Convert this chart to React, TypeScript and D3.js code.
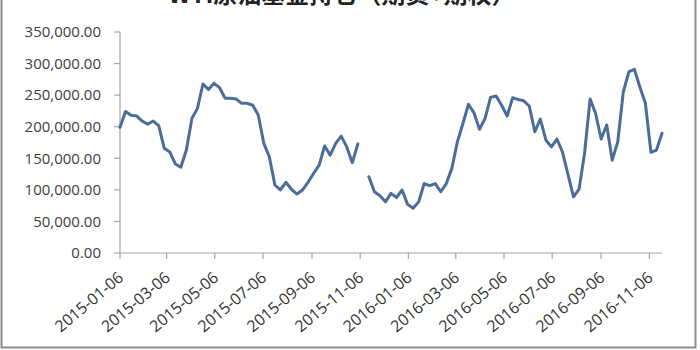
import React from "react";
import * as d3 from "d3";

const TITLE = "WTI原油基金持仓（期货+期权）";
const START_DATE = "2015-01-06"; // weekly observations (Tuesdays)
const END_DATE = "2016-11-22";
// null = missing week (gap in line)
const positions: (number | null)[] = [
  199000, 224000, 218000, 217000, 209000, 204000, 209000, 201600, 165800, 160000,
  141000, 135700, 163000, 213000, 229000, 267600, 259000, 268700, 261800, 245000,
  245000, 243900, 237000, 237000, 234000, 218500, 173700, 152500, 107700, 99800,
  112000, 100900, 93400, 99800, 112000, 126000, 139000, 169500, 155000, 173700,
  185000, 168000, 143000, 172600, null, 120800, 97000, 90800, 81000, 94500,
  87600, 99800, 77000, 70800, 81000, 110000, 106600, 110000, 97000, 110000,
  134000, 176000, 205000, 235500, 222000, 196000, 213000, 246500, 248600, 234000,
  217000, 246000, 243000, 241000, 232800, 192000, 212000, 179000, 168000, 180500,
  160000, 124600, 89000, 101000, 158000, 244000, 221000, 180500, 202700, 147000,
  176000, 255000, 287000, 291000, 263000, 237000, 159500, 163000, 189600,
];
const xTickLabels = [
  "2015-01-06", "2015-03-06", "2015-05-06", "2015-07-06", "2015-09-06", "2015-11-06",
  "2016-01-06", "2016-03-06", "2016-05-06", "2016-07-06", "2016-09-06", "2016-11-06",
];
const yTicks = [0, 50000, 100000, 150000, 200000, 250000, 300000, 350000];

const W = 700;
const H = 350;
const M = { left: 120, right: 662, top: 32, bottom: 253 };
const FONT = "'Open Sans', 'Liberation Sans', sans-serif";

export default function App() {
  const parse = d3.utcParse("%Y-%m-%d");
  const start = parse(START_DATE)!;
  const end = parse(END_DATE)!;
  const data = positions.map((v, i) => ({ date: d3.utcWeek.offset(start, i), v }));

  const x = d3.scaleUtc().domain([start, end]).range([M.left, M.right]);
  const y = d3.scaleLinear().domain([0, 350000]).range([M.bottom, M.top]);

  const line = d3
    .line<{ date: Date; v: number | null }>()
    .defined((d) => d.v != null)
    .x((d) => x(d.date))
    .y((d) => y(d.v as number));

  const fmt = d3.format(",.2f");
  const axisColor = "#a6a6a6";

  return (
    <svg
      width={W}
      height={H}
      style={{ position: "absolute", left: 0, top: 0, background: "#fff" }}
      fontFamily={FONT}
    >
      <rect x={0} y={0} width={W} height={H} fill="#fff" />
      <rect x={1.5} y={-10} width={694} height={357.5} fill="none" stroke="#8c8c8c" strokeWidth={2} />
      <text
        x={342}
        y={3}
        textAnchor="middle"
        fontSize={24}
        fontWeight="bold"
        fill="#222"
        fontFamily="'Noto Sans CJK SC', sans-serif"
      >
        {TITLE}
      </text>

      {/* y axis */}
      <line x1={M.left} x2={M.left} y1={M.top} y2={M.bottom} stroke={axisColor} strokeWidth={1.2} />
      {yTicks.map((t) => (
        <g key={t}>
          <line x1={M.left - 6} x2={M.left} y1={y(t)} y2={y(t)} stroke={axisColor} strokeWidth={1.2} />
          <text x={101} y={y(t)} dy="0.35em" textAnchor="end" fontSize={15} fill="#404040">
            {fmt(t)}
          </text>
        </g>
      ))}

      {/* x axis */}
      <line x1={M.left} x2={M.right} y1={M.bottom} y2={M.bottom} stroke={axisColor} strokeWidth={1.2} />
      {xTickLabels.map((s) => {
        const xx = x(parse(s)!);
        return (
          <g key={s}>
            <line x1={xx} x2={xx} y1={M.bottom} y2={M.bottom + 6} stroke={axisColor} strokeWidth={1.2} />
            <text
              transform={`translate(${xx + 1},${M.bottom + 22}) rotate(-40)`}
              textAnchor="end"
              dy="0.35em"
              fontSize={16}
              fill="#333"
            >
              {s}
            </text>
          </g>
        );
      })}

      <path
        d={line(data) || ""}
        fill="none"
        stroke="#4a6e99"
        strokeWidth={3}
        strokeLinejoin="round"
        strokeLinecap="round"
      />
    </svg>
  );
}
